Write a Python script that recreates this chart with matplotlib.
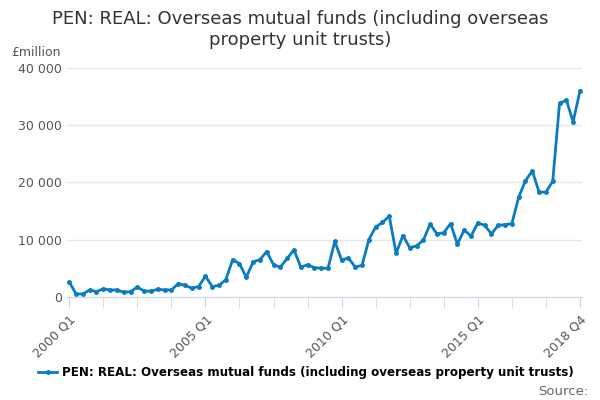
import numpy as np
from matplotlib import pyplot as plt

years = range(2000, 2019)
quarters = [str(y) + ' Q' + str(q) for y in years for q in range(1, 5)]
values = [2600, 500, 500, 1200, 900, 1400, 1200, 1200,
          800, 900, 1700, 1000, 1000, 1300, 1200, 1200,
          2300, 2000, 1500, 1800, 3600, 1800, 2000, 3000,
          6500, 5800, 3400, 6100, 6500, 7900, 5600, 5200,
          6700, 8200, 5200, 5600, 5100, 5000, 5000, 9700,
          6400, 6800, 5200, 5500, 10000, 12200, 13000, 14100,
          7600, 10700, 8600, 8900, 9900, 12700, 11000, 11200,
          12800, 9200, 11700, 10600, 12900, 12500, 11000, 12500,
          12600, 12800, 17400, 20300, 22000, 18300, 18300, 20200,
          33800, 34400, 30600, 36000]
label_ticks = ['2000 Q1', '2005 Q1', '2010 Q1', '2015 Q1', '2018 Q4']

color = '#0b7cc1'
fig = plt.figure(figsize=(6, 4), dpi=100)
ax = fig.add_axes([0.112, 0.258, 0.858, 0.572])
x = np.arange(len(values))
ax.plot(x, values, color=color, lw=2, marker='o', ms=2.5,
        label='PEN: REAL: Overseas mutual funds (including overseas property unit trusts)')

ax.set_xlim(-0.3, len(values) - 0.7)
ax.set_ylim(0, 40000)
ax.set_yticks([0, 10000, 20000, 30000, 40000])
ax.set_yticklabels(['0', '10 000', '20 000', '30 000', '40 000'], color='#555555', fontsize=9)
ax.set_xticks(x[::5], minor=True)
ax.set_xticks([quarters.index(q) for q in label_ticks])
ax.set_xticklabels(label_ticks, rotation=45, ha='right', rotation_mode='anchor',
                   color='#555555', fontsize=9)
ax.tick_params(axis='x', which='both', color='#ccd6eb', length=8)
ax.tick_params(axis='y', length=0)
ax.grid(axis='y', color='#e6e6e6', lw=1)
for s in ['top', 'right', 'left']:
    ax.spines[s].set_visible(False)
ax.spines['bottom'].set_color('#ccd6eb')

fig.text(0.5, 0.975, 'PEN: REAL: Overseas mutual funds (including overseas\nproperty unit trusts)',
         ha='center', va='top', fontsize=13, color='#333333')
fig.text(0.018, 0.86, '£million', fontsize=9, color='#555555')
fig.legend(loc='lower center', bbox_to_anchor=(0.51, 0.025), frameon=False,
           handlelength=1.6, handletextpad=0.4, prop={'weight': 'bold', 'size': 8.6})
fig.text(0.98, 0.005, 'Source:', ha='right', va='bottom', fontsize=9.5, color='#666666')

plt.savefig('out.png')
